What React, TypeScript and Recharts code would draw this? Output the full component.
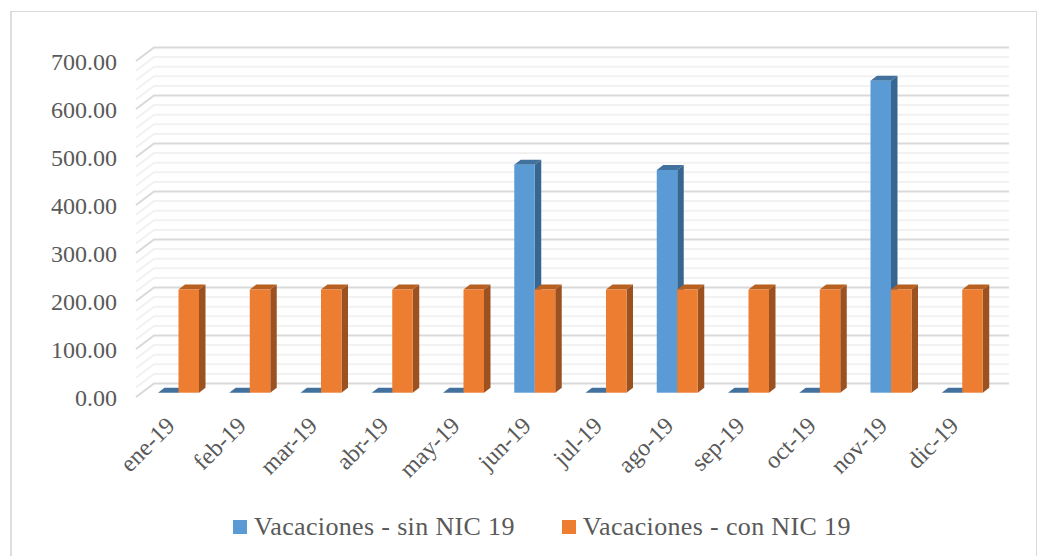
import React from "react";
import { BarChart, Bar, XAxis, YAxis, CartesianGrid, Legend } from "recharts";

const categories = ["ene-19","feb-19","mar-19","abr-19","may-19","jun-19","jul-19","ago-19","sep-19","oct-19","nov-19","dic-19"];
const sinNic = [0,0,0,0,0,475,0,464,0,0,650,0];
const conNic = [215,215,215,215,215,215,215,215,215,215,215,215];
const yTicks = [0,100,200,300,400,500,600,700];
const minorA = [20,120,220,320,420,520,620];
const minorB = [40,140,240,340,440,540,640];
const minorC = [60,160,260,360,460,560,660];
const minorD = [80,180,280,380,480,580,680];

const rows = categories.map((c, i) => ({ c, sin: sinNic[i], con: conNic[i] }));
const FONT = "'Liberation Serif', 'Times New Roman', serif";
const TEXT = "#595959";

function Bar3D(props: any) {
  const { x, y, width, height, front, top, side } = props;
  const fx = x + 7, fy = y - 4.3;
  const dx = 6.5, dy = -5;
  return (
    <g>
      <polygon points={`${fx},${fy} ${fx + dx},${fy + dy} ${fx + width + dx},${fy + dy} ${fx + width},${fy}`} fill={top} />
      <polygon points={`${fx + width},${fy} ${fx + width + dx},${fy + dy} ${fx + width + dx},${fy + height + dy} ${fx + width},${fy + height}`} fill={side} />
      {height > 0 && <rect x={fx} y={fy} width={width} height={height} fill={front} />}
    </g>
  );
}

function gridLine(color: string) {
  return (props: any) => {
    const { x1, x2, y1 } = props;
    const dx = 18, dy = -13.5;
    return (
      <polyline
        key={`${color}-${y1}`}
        points={`${x1},${y1} ${x1 + dx},${y1 + dy} ${x2 + dx},${y1 + dy}`}
        fill="none"
        stroke={color}
        strokeWidth={2}
      />
    );
  };
}

function XTick(props: any) {
  const { x, y, payload } = props;
  const bx = x + 4.5, by = y + 22;
  return (
    <text x={bx} y={by} transform={`rotate(-45 ${bx} ${by})`} textAnchor="end" fill={TEXT} fontSize={24} fontFamily={FONT}>
      {payload.value}
    </text>
  );
}

function LegendBox({ payload }: any) {
  return (
    <div style={{ display: "flex", alignItems: "center", height: 59, paddingLeft: 233, boxSizing: "border-box" }}>
      {(payload || []).map((it: any, i: number) => (
        <div key={it.value} style={{ display: "flex", alignItems: "center", marginLeft: i ? 47 : 0 }}>
          <span style={{ width: 14, height: 14, background: it.color, marginRight: 7, display: "inline-block" }} />
          <span style={{ color: TEXT, fontSize: 26, letterSpacing: 0.35, fontFamily: FONT, whiteSpace: "nowrap", lineHeight: "30px" }}>{it.value}</span>
        </div>
      ))}
    </div>
  );
}

export default function App() {
  return (
    <div style={{ position: "absolute", left: 0, top: 0, width: 1050, height: 556, background: "#fff", overflow: "hidden" }}>
      <div style={{ position: "absolute", left: 10, top: 11, width: 1027, height: 560, borderTop: "1px solid #d9d9d9", borderRight: "1px solid #d9d9d9", borderLeft: "2px solid #dedede", boxSizing: "border-box" }} />
      <BarChart
        width={1050}
        height={556}
        data={rows}
        margin={{ top: 61, right: 59, bottom: 0, left: 0 }}
        barSize={20.5}
        barGap={0}
        style={{ fontFamily: FONT }}
      >
        <CartesianGrid vertical={false} horizontal={gridLine("#f2f2f2") as any} horizontalValues={minorA} />
        <CartesianGrid vertical={false} horizontal={gridLine("#f2f2f2") as any} horizontalValues={minorB} />
        <CartesianGrid vertical={false} horizontal={gridLine("#f2f2f2") as any} horizontalValues={minorC} />
        <CartesianGrid vertical={false} horizontal={gridLine("#f2f2f2") as any} horizontalValues={minorD} />
        <CartesianGrid vertical={false} horizontal={gridLine("#d9d9d9") as any} horizontalValues={yTicks} />
        <XAxis
          dataKey="c"
          height={100}
          interval={0}
          axisLine={false}
          tickLine={false}
          tick={XTick as any}
        />
        <YAxis
          width={136}
          domain={[0, 700]}
          ticks={yTicks}
          tickMargin={13}
          tickFormatter={(v: number) => v.toFixed(2)}
          axisLine={false}
          tickLine={false}
          tick={{ fill: TEXT, fontSize: 24, fontFamily: FONT }}
        />
        <Legend
          height={59}
          verticalAlign="bottom"
          wrapperStyle={{ left: 0, width: 1050, top: 497 }}
          itemSorter={null as any}
          content={LegendBox as any}
        />
        <Bar dataKey="sin" name="Vacaciones - sin NIC 19" fill="#5b9bd5" isAnimationActive={false}
          shape={(p: any) => <Bar3D {...p} front="#5b9bd5" top="#41719c" side="#376690" />} />
        <Bar dataKey="con" name="Vacaciones - con NIC 19" fill="#ed7d31" isAnimationActive={false}
          shape={(p: any) => <Bar3D {...p} front="#ed7d31" top="#b8601f" side="#9c5220" />} />
      </BarChart>
    </div>
  );
}
